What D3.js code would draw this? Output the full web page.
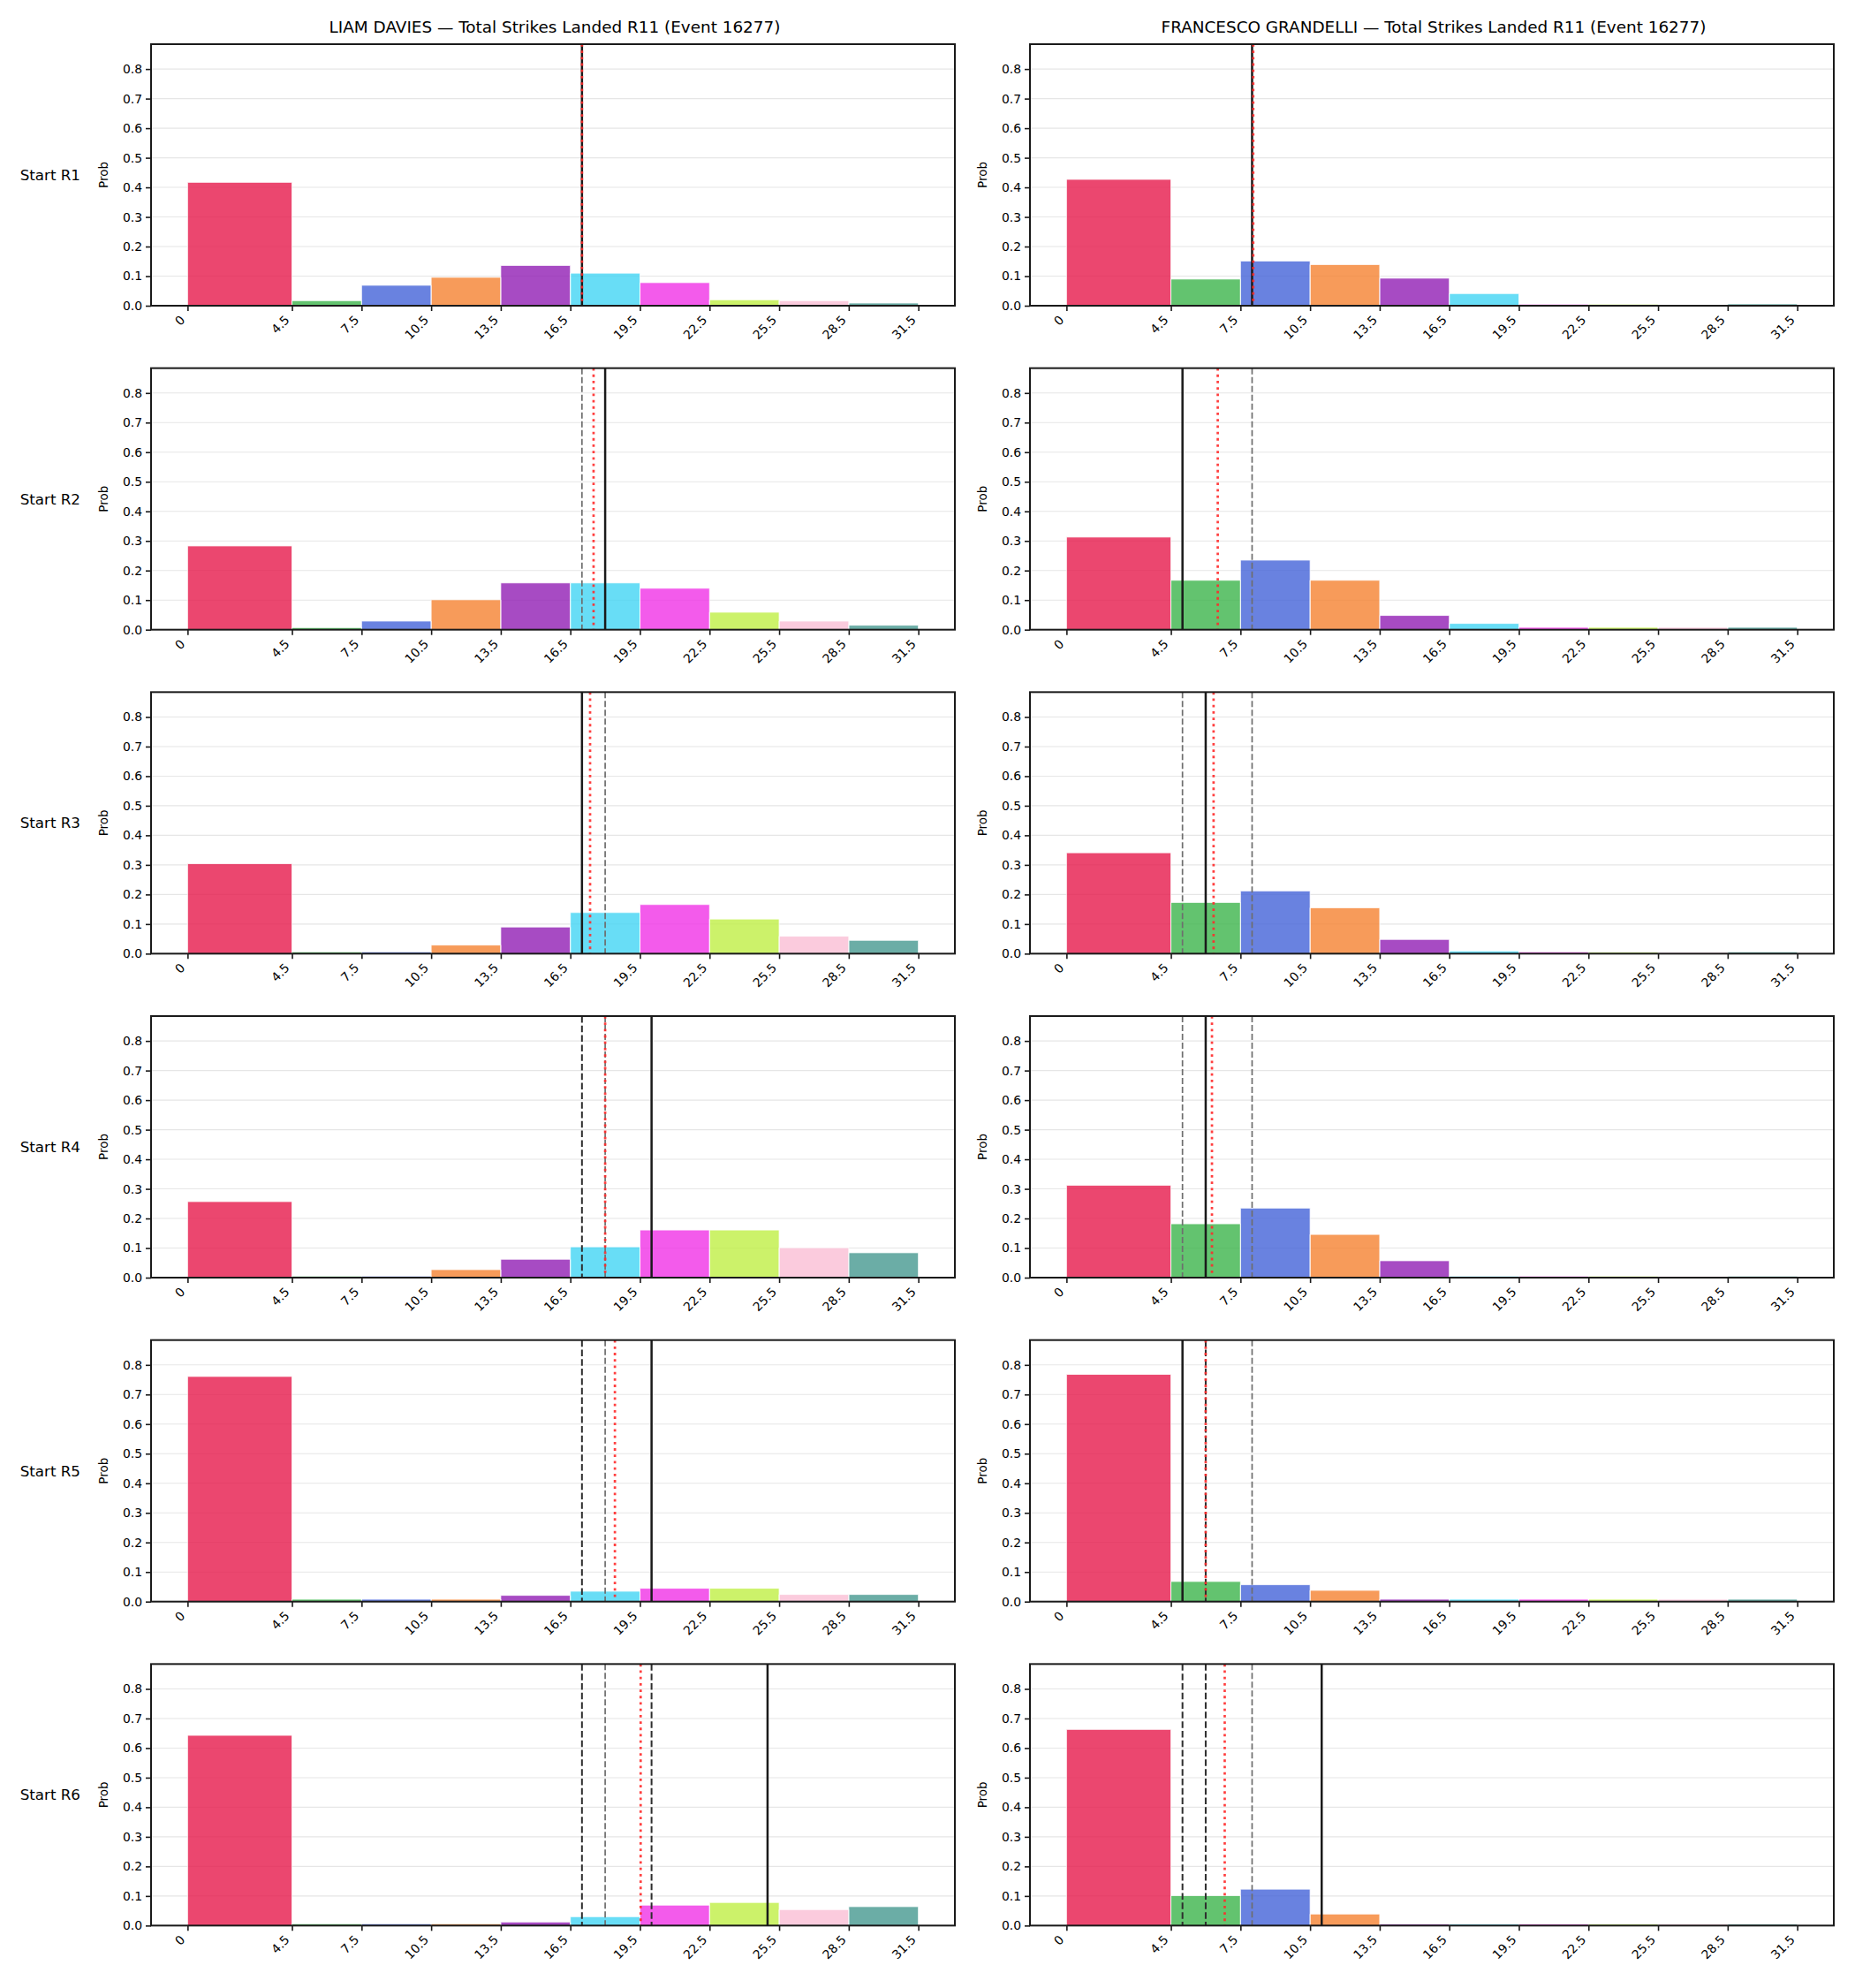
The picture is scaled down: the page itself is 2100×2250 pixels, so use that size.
<!DOCTYPE html>
<html>
<head>
<meta charset="utf-8">
<script src="https://cdn.jsdelivr.net/npm/d3@7"></script>
<style>
  html, body { margin: 0; padding: 0; background: #ffffff; }
  svg { display: block; font-family: "DejaVu Sans", sans-serif; }
</style>
</head>
<body>
<svg id="chart" width="2100" height="2250"></svg>
<script>
// ---------------- DATA ----------------
const rounds = ["R1", "R2", "R3", "R4", "R5", "R6"];
const fighters = ["LIAM DAVIES", "FRANCESCO GRANDELLI"];
const titleSuffix = " — Total Strikes Landed R11 (Event 16277)";
const binEdges = [0, 4.5, 7.5, 10.5, 13.5, 16.5, 19.5, 22.5, 25.5, 28.5, 31.5];
const tickLabels = ["0", "4.5", "7.5", "10.5", "13.5", "16.5", "19.5", "22.5", "25.5", "28.5", "31.5"];
const yTicks = [0, 0.1, 0.2, 0.3, 0.4, 0.5, 0.6, 0.7, 0.8];
const binColors = ["#e6194b", "#3cb44b", "#4363d8", "#f58231", "#911eb4",
                   "#42d4f4", "#f032e6", "#bfef45", "#fabed4", "#469990"];

// probabilities per bin, one row per starting round
const daviesProbs = [
  [0.417, 0.017, 0.069, 0.096, 0.136, 0.110, 0.078, 0.020, 0.017, 0.009],
  [0.283, 0.007, 0.029, 0.101, 0.158, 0.158, 0.140, 0.059, 0.029, 0.015],
  [0.304, 0.006, 0.006, 0.029, 0.090, 0.139, 0.166, 0.117, 0.059, 0.045],
  [0.257, 0.005, 0.005, 0.027, 0.062, 0.104, 0.161, 0.161, 0.101, 0.084],
  [0.761, 0.008, 0.008, 0.008, 0.021, 0.035, 0.045, 0.045, 0.024, 0.024],
  [0.643, 0.006, 0.006, 0.006, 0.012, 0.030, 0.069, 0.078, 0.054, 0.064]
];
const grandelliProbs = [
  [0.427, 0.090, 0.151, 0.139, 0.093, 0.041, 0.005, 0.005, 0.003, 0.006],
  [0.313, 0.167, 0.235, 0.167, 0.048, 0.021, 0.008, 0.008, 0.008, 0.008],
  [0.341, 0.173, 0.212, 0.155, 0.048, 0.009, 0.006, 0.005, 0.004, 0.006],
  [0.312, 0.182, 0.235, 0.146, 0.057, 0.005, 0.005, 0.005, 0.004, 0.005],
  [0.768, 0.068, 0.057, 0.038, 0.008, 0.008, 0.008, 0.008, 0.008, 0.008],
  [0.663, 0.101, 0.123, 0.039, 0.005, 0.005, 0.005, 0.005, 0.005, 0.005]
];

// vertical reference lines
const daviesLine = [17, 18, 17, 20, 20, 25];                 // solid black
const daviesMean = [17.0, 17.5, 17.35, 18.0, 18.42, 19.53];  // red dotted
const daviesDark = [[], [], [], [17], [17], [17, 20]];       // dark dashed
const daviesGray = [[], [17], [18], [18], [18], [18]];       // gray dashed

const grandelliLine = [8, 5, 6, 6, 5, 11];
const grandelliMean = [8.05, 6.52, 6.34, 6.27, 6.0, 6.82];
const grandelliDark = [[], [], [], [], [6], [5, 6]];
const grandelliGray = [[], [8], [5, 8], [5, 8], [8], [8]];

// ---------------- LAYOUT ----------------
const svg = d3.select("#chart");
const colX = [171, 1166];
const axW = 910;
const axH = 296;
const rowTop0 = 50;
const rowStep = 366.67;

const x = d3.scaleLinear().domain([-1.575, 33.075]).range([0, axW]);
const y = d3.scaleLinear().domain([0, 0.884]).range([axH, 0]);

const panels = [
  { probs: daviesProbs, line: daviesLine, mean: daviesMean, dark: daviesDark, gray: daviesGray },
  { probs: grandelliProbs, line: grandelliLine, mean: grandelliMean, dark: grandelliDark, gray: grandelliGray }
];

const tickFont = 13.9;

panels.forEach((p, c) => {
  // column title
  svg.append("text")
    .attr("x", colX[c] + axW / 2 + 2)
    .attr("y", 37)
    .attr("text-anchor", "middle")
    .attr("font-size", 18.4)
    .attr("fill", "#000")
    .text(fighters[c] + titleSuffix);

  rounds.forEach((r, i) => {
    const g = svg.append("g")
      .attr("transform", `translate(${colX[c]},${rowTop0 + i * rowStep})`);

    // grid
    g.selectAll("line.grid").data(yTicks).enter().append("line")
      .attr("x1", 0).attr("x2", axW)
      .attr("y1", d => y(d)).attr("y2", d => y(d))
      .attr("stroke", "#e6e6e6").attr("stroke-width", 1.1);

    // bars
    const bars = p.probs[i].map((v, k) => ({ x0: binEdges[k], x1: binEdges[k + 1], v, color: binColors[k] }));
    g.selectAll("rect.bar").data(bars).enter().append("rect")
      .attr("x", d => x(d.x0))
      .attr("width", d => x(d.x1) - x(d.x0))
      .attr("y", d => y(d.v))
      .attr("height", d => y(0) - y(d.v))
      .attr("fill", d => d.color)
      .attr("fill-opacity", 0.8);
    // white bar edges (thin, sides and top only so tiny bars stay visible)
    g.selectAll("path.edge").data(bars).enter().append("path")
      .attr("d", d => `M${x(d.x0)},${y(0)}V${y(d.v)}H${x(d.x1)}V${y(0)}`)
      .attr("fill", "none")
      .attr("stroke", "#ffffff")
      .attr("stroke-opacity", 0.85)
      .attr("stroke-width", 0.9);

    // gray dashed lines
    g.selectAll("line.gray").data(p.gray[i]).enter().append("line")
      .attr("x1", d => x(d)).attr("x2", d => x(d))
      .attr("y1", 0).attr("y2", axH)
      .attr("stroke", "#6e6e6e").attr("stroke-width", 1.7)
      .attr("stroke-dasharray", "7,3");

    // dark dashed lines
    g.selectAll("line.dark").data(p.dark[i]).enter().append("line")
      .attr("x1", d => x(d)).attr("x2", d => x(d))
      .attr("y1", 0).attr("y2", axH)
      .attr("stroke", "#2e2e2e").attr("stroke-width", 2)
      .attr("stroke-dasharray", "7.5,3.3");

    // solid black line
    g.append("line")
      .attr("x1", x(p.line[i])).attr("x2", x(p.line[i]))
      .attr("y1", 0).attr("y2", axH)
      .attr("stroke", "#1a1a1a").attr("stroke-width", 2.5);

    // red dotted mean line
    g.append("line")
      .attr("x1", x(p.mean[i])).attr("x2", x(p.mean[i]))
      .attr("y1", 0).attr("y2", axH)
      .attr("stroke", "#ff2a2a").attr("stroke-opacity", 0.9).attr("stroke-width", 2.7)
      .attr("stroke-dasharray", "2.8,4.4");

    // frame
    g.append("rect")
      .attr("x", 0).attr("y", 0).attr("width", axW).attr("height", axH)
      .attr("fill", "none").attr("stroke", "#1a1a1a").attr("stroke-width", 2);

    // y axis
    const yAxis = d3.axisLeft(y).tickValues(yTicks).tickFormat(d3.format(".1f"))
      .tickSize(6).tickPadding(4);
    const ya = g.append("g").call(yAxis);
    ya.select(".domain").remove();
    ya.selectAll(".tick line").attr("stroke", "#1a1a1a").attr("stroke-width", 1.6);
    ya.selectAll(".tick text").attr("font-size", tickFont).attr("fill", "#000")
      .attr("font-family", "DejaVu Sans");

    // x axis
    const xAxis = d3.axisBottom(x).tickValues(binEdges).tickFormat((d, k) => tickLabels[k])
      .tickSize(6).tickPadding(4);
    const xa = g.append("g").attr("transform", `translate(0,${axH})`).call(xAxis);
    xa.select(".domain").remove();
    xa.selectAll(".tick line").attr("stroke", "#1a1a1a").attr("stroke-width", 1.6);
    xa.selectAll(".tick text")
      .attr("font-size", tickFont).attr("fill", "#000")
      .attr("font-family", "DejaVu Sans")
      .attr("text-anchor", "end")
      .attr("dy", null)
      .attr("y", null)
      .attr("transform", "translate(-2.5,17) rotate(-45)");

    // y label
    g.append("text")
      .attr("transform", `translate(-49,${axH / 2}) rotate(-90)`)
      .attr("text-anchor", "middle")
      .attr("font-size", 13.5)
      .attr("fill", "#000")
      .text("Prob");

    // row label (only left column)
    if (c === 0) {
      svg.append("text")
        .attr("x", 91)
        .attr("y", rowTop0 + i * rowStep + axH / 2 + 6)
        .attr("text-anchor", "end")
        .attr("font-size", 16.7)
        .attr("fill", "#000")
        .text("Start " + r);
    }
  });
});
</script>
</body>
</html>
